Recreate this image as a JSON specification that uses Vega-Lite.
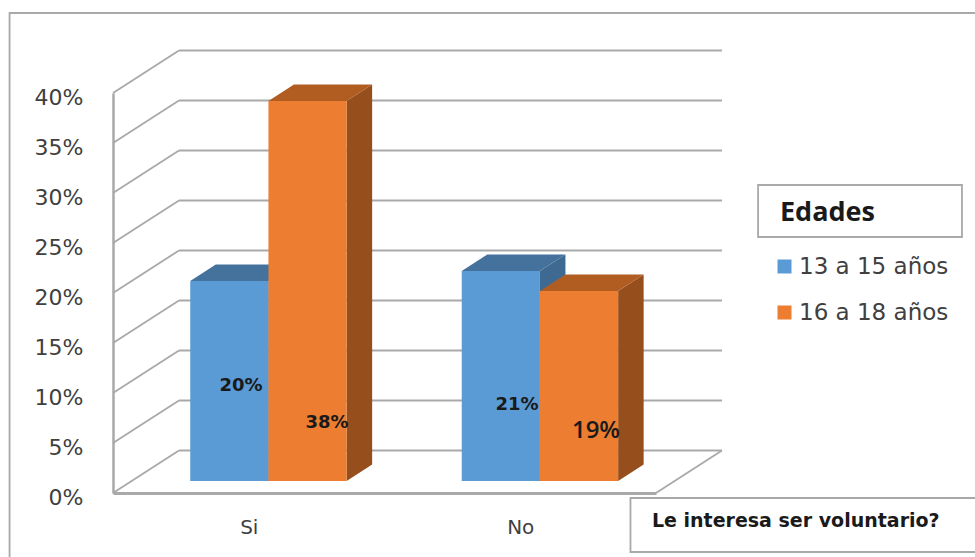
{
"$schema":"https://vega.github.io/schema/vega-lite/v6.json",
"width":543,"height":400,
"autosize":{"type":"none"},
"padding":{"left":113,"top":93,"right":319,"bottom":64},
"background":"white",
"datasets":{
 "bars":[
  {"Respuesta":"Si","Edad":"13 a 15 años","Porcentaje":20},
  {"Respuesta":"Si","Edad":"16 a 18 años","Porcentaje":38},
  {"Respuesta":"No","Edad":"13 a 15 años","Porcentaje":21},
  {"Respuesta":"No","Edad":"16 a 18 años","Porcentaje":19}],
 "ticks":[{"t":0},{"t":5},{"t":10},{"t":15},{"t":20},{"t":25},{"t":30},{"t":35},{"t":40}]
},
"config":{"view":{"stroke":null}},
"resolve":{"scale":{"color":"independent"}},
"layer":[
{"data":{"values":[{"x":-0.381,"x2":3.4,"y":48,"y2":-10},{"x":2.376,"x2":3.127,"y":30.8,"y2":25.6},{"x":1.906,"x2":3.4,"y":-0.5,"y2":-5.9}]},
 "mark":{"type":"rect","fillOpacity":0,"stroke":"#a9a9a9","strokeWidth":1.8},
 "encoding":{"x":{"field":"x","type":"quantitative","scale":{"domain":[0,2],"nice":false,"zero":false},
   "axis":{"values":[0.5,1.5],"labelExpr":"datum.value<1?'Si':'No'","title":null,"grid":false,"ticks":false,"domainColor":"#a9a9a9","domainWidth":3,"labelFont":"DejaVu Sans","labelFontSize":20,"labelColor":"#404040","labelPadding":34,"labelBaseline":"middle"}},
  "x2":{"field":"x2"},
  "y":{"field":"y","type":"quantitative","scale":{"domain":[0,40],"nice":false,"zero":false},
   "axis":{"values":[0,5,10,15,20,25,30,35,40],"labelExpr":"datum.value+'%'","title":null,"grid":false,"ticks":false,"domainColor":"#a9a9a9","domainWidth":2.5,"labelFont":"DejaVu Sans","labelFontSize":22,"labelColor":"#404040","labelPadding":30,"labelOffset":4}},
  "y2":{"field":"y2"}}},
{"data":{"name":"ticks"},
 "transform":[{"calculate":"datum.t+4.25","as":"yb"},{"calculate":"0.243","as":"xb"},{"calculate":"2.243","as":"xe"}],
 "mark":{"type":"rule","stroke":"#a9a9a9","strokeWidth":1.8},
 "encoding":{"x":{"field":"xb","type":"quantitative"},
  "x2":{"field":"xe"},
  "y":{"field":"yb","type":"quantitative"}}},
{"data":{"name":"ticks"},
 "transform":[{"calculate":"datum.t+4.25","as":"yb"},{"calculate":"0","as":"xa"},{"calculate":"0.243","as":"xb"}],
 "mark":{"type":"rule","stroke":"#a9a9a9","strokeWidth":1.8},
 "encoding":{"x":{"field":"xa","type":"quantitative"},
  "x2":{"field":"xb"},
  "y":{"field":"t","type":"quantitative"},
  "y2":{"field":"yb"}}},
{"data":{"values":[{"x":2,"x2":2.243,"y":0,"y2":4.25}]},
 "mark":{"type":"rule","stroke":"#a9a9a9","strokeWidth":1.8},
 "encoding":{"x":{"field":"x","type":"quantitative"},
  "x2":{"field":"x2"},
  "y":{"field":"y","type":"quantitative"},
  "y2":{"field":"y2"}}},
{"data":{"name":"bars"},
 "transform":[
  {"calculate":"datum.Respuesta+datum.Edad","as":"id"},
  {"calculate":"(datum.Respuesta=='Si'?0:1)+0.2845+(datum.Edad=='13 a 15 años'?1:2)*0.288","as":"xr"},
  {"calculate":"[0,1]","as":"d"},{"flatten":["d"]},
  {"calculate":"datum.xr+datum.d*0.094","as":"xs"},
  {"calculate":"1.2+datum.d*1.65","as":"ylo"},
  {"calculate":"1.2+datum.d*1.65+datum.Porcentaje","as":"yhi"}],
 "mark":{"type":"area"},
 "encoding":{"x":{"field":"xs","type":"quantitative"},
  "y":{"field":"yhi","type":"quantitative","stack":null},
  "y2":{"field":"ylo"},
  "detail":{"field":"id"},
  "color":{"field":"Edad","type":"nominal","legend":null,"scale":{"domain":["13 a 15 años","16 a 18 años"],"range":["#3E6A92","#964F1C"]}}}},
{"data":{"name":"bars"},
 "transform":[
  {"calculate":"datum.Respuesta+datum.Edad","as":"id"},
  {"calculate":"(datum.Respuesta=='Si'?0:1)+0.2845+(datum.Edad=='13 a 15 años'?0:1)*0.288","as":"xl"},
  {"calculate":"[0,1]","as":"d"},{"flatten":["d"]},
  {"calculate":"datum.xl+datum.d*0.094","as":"xa"},
  {"calculate":"datum.xl+0.288+datum.d*0.094","as":"xb"},
  {"calculate":"1.2+datum.d*1.65+datum.Porcentaje","as":"yt"}],
 "mark":{"type":"area","orient":"horizontal"},
 "encoding":{"x":{"field":"xa","type":"quantitative","stack":null},
  "x2":{"field":"xb"},
  "y":{"field":"yt","type":"quantitative"},
  "detail":{"field":"id"},
  "color":{"field":"Edad","type":"nominal","legend":null,"scale":{"domain":["13 a 15 años","16 a 18 años"],"range":["#44729D","#B15D22"]}}}},
{"data":{"name":"bars"},
 "transform":[
  {"calculate":"(datum.Respuesta=='Si'?0:1)+0.2845+(datum.Edad=='13 a 15 años'?0:1)*0.288","as":"xl"},
  {"calculate":"datum.xl+0.288","as":"xr"},
  {"calculate":"1.2","as":"ylo"},
  {"calculate":"1.2+datum.Porcentaje","as":"yhi"}],
 "mark":{"type":"rect"},
 "encoding":{"x":{"field":"xl","type":"quantitative"},
  "x2":{"field":"xr"},
  "y":{"field":"yhi","type":"quantitative"},
  "y2":{"field":"ylo"},
  "color":{"field":"Edad","type":"nominal","scale":{"domain":["13 a 15 años","16 a 18 años"],"range":["#5B9BD5","#ED7D31"]},
   "legend":{"title":"Edades","orient":"none","legendX":667,"legendY":107,"padding":0,"titleFont":"Open Sans","titleFontSize":27,"titleFontWeight":"bold","titleColor":"#1a1a1a","titlePadding":28,"symbolType":"square","symbolSize":196,"symbolStrokeWidth":0,"symbolOffset":-7,"labelFont":"DejaVu Sans","labelFontSize":23,"labelColor":"#404040","rowPadding":22,"labelOffset":3}}}},
{"data":{"name":"bars"},
 "transform":[
  {"filter":"datum.Porcentaje!=19"},
  {"calculate":"datum.Porcentaje==20?0.4715:datum.Porcentaje==38?0.788:1.488","as":"lx"},
  {"calculate":"datum.Porcentaje==20?10.7:datum.Porcentaje==38?7:8.8","as":"ly"},
  {"calculate":"datum.Porcentaje+'%'","as":"lab"}],
 "mark":{"type":"text","font":"DejaVu Sans","fontWeight":"bold","fontSize":18,"color":"#1a1a1a"},
 "encoding":{"x":{"field":"lx","type":"quantitative"},
  "y":{"field":"ly","type":"quantitative"},
  "text":{"field":"lab"}}},
{"data":{"name":"bars"},
 "transform":[
  {"filter":"datum.Porcentaje==19"},
  {"calculate":"1.779","as":"lx"},{"calculate":"6.2","as":"ly"},
  {"calculate":"datum.Porcentaje+'%'","as":"lab"}],
 "mark":{"type":"text","font":"Open Sans","fontWeight":600,"fontSize":24,"color":"#1a1a1a"},
 "encoding":{"x":{"field":"lx","type":"quantitative"},
  "y":{"field":"ly","type":"quantitative"},
  "text":{"field":"lab"}}},
{"data":{"values":[{"x":1.985,"y":-2.8,"t":"Le interesa ser voluntario?"}]},
 "mark":{"type":"text","align":"left","font":"DejaVu Sans","fontWeight":"bold","fontSize":19,"color":"#1a1a1a"},
 "encoding":{"x":{"field":"x","type":"quantitative"},
  "y":{"field":"y","type":"quantitative"},
  "text":{"field":"t"}}}
]
}
